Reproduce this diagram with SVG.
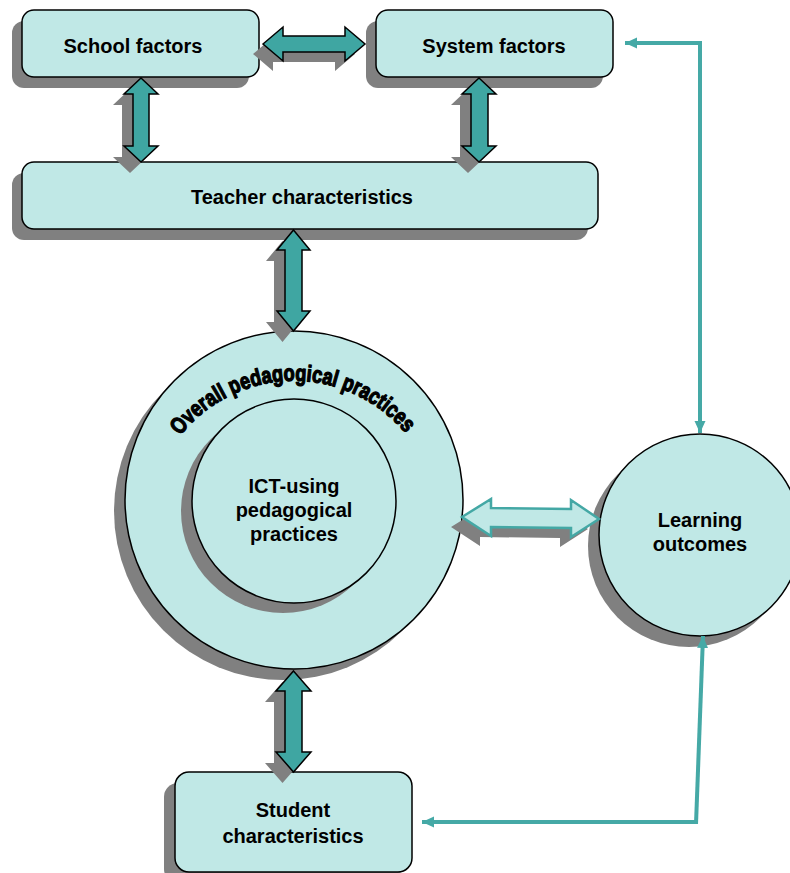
<svg xmlns="http://www.w3.org/2000/svg" width="790" height="873" viewBox="0 0 790 873">
<style>
.node{fill:#c0e8e6;stroke:#000;stroke-width:1.5}
.shadow{fill:#808080;stroke:none}
.lbl{font-family:"Liberation Sans",Arial,sans-serif;font-weight:bold;font-size:20px;fill:#000;text-anchor:middle}
.big{fill:#3fa6a2;stroke:#000;stroke-width:1.5;stroke-linejoin:miter}
.light{fill:#c0e8e6;stroke:#44a8a5;stroke-width:2.5;stroke-linejoin:miter}
.line{fill:none;stroke:#45a9a6;stroke-width:4}
.arc{font-family:"Liberation Sans",Arial,sans-serif;font-weight:bold;font-size:23px;fill:#000;stroke:#000;stroke-width:1.3;stroke-linejoin:round}
</style>
<defs>
<marker id="ah" markerUnits="userSpaceOnUse" markerWidth="14" markerHeight="12" refX="12" refY="6" orient="auto-start-reverse">
<path d="M0,0.5 L12,6 L0,11.5 z" fill="#45a9a6"/>
</marker>
<path id="arcp" d="M180.3,435.7 A145,145 0 0 1 404.4,431.9"/>
</defs>

<g id="school-factors">
<rect class="shadow" x="12" y="21" width="237" height="67" rx="12"/>
<rect class="node" x="22" y="10" width="237" height="67" rx="12"/>
<text class="lbl" x="133" y="53">School factors</text>
</g>

<g id="system-factors">
<rect class="shadow" x="366" y="21" width="237" height="67" rx="12"/>
<rect class="node" x="376" y="10" width="237" height="67" rx="12"/>
<text class="lbl" x="494" y="53">System factors</text>
</g>

<g id="teacher-characteristics">
<rect class="shadow" x="12" y="173" width="576" height="67" rx="12"/>
<rect class="node" x="22" y="162" width="576" height="67" rx="12"/>
<text class="lbl" x="302" y="204">Teacher characteristics</text>
</g>

<g id="overall-pedagogical-practices">
<circle class="shadow" cx="283" cy="511" r="169"/>
<circle class="node" cx="294" cy="500" r="169"/>
<text class="arc"><textPath href="#arcp" textLength="258" lengthAdjust="spacingAndGlyphs">Overall pedagogical practices</textPath></text>
</g>

<g id="ict-using-pedagogical-practices">
<circle class="shadow" cx="283" cy="511" r="102"/>
<circle class="node" cx="294" cy="501" r="102"/>
<text class="lbl" x="294" y="493">ICT-using</text>
<text class="lbl" x="294" y="517">pedagogical</text>
<text class="lbl" x="294" y="541">practices</text>
</g>

<g id="learning-outcomes">
<circle class="shadow" cx="689" cy="546" r="101"/>
<circle class="node" cx="700" cy="535" r="101"/>
<text class="lbl" x="700" y="527">Learning</text>
<text class="lbl" x="700" y="551">outcomes</text>
</g>

<g id="student-characteristics">
<rect class="shadow" x="164" y="783" width="237" height="100" rx="14"/>
<rect class="node" x="175" y="772" width="237" height="100" rx="14"/>
<text class="lbl" x="293" y="817">Student</text>
<text class="lbl" x="293" y="843">characteristics</text>
</g>

<g id="connectors">
<polygon class="shadow" transform="translate(-10,10)" points="263,44 283,27 283,36 345,36 345,27 365,44 345,61 345,52 283,52 283,61"/>
<polygon class="big" points="263,44 283,27 283,36 345,36 345,27 365,44 345,61 345,52 283,52 283,61"/>
<polygon class="shadow" transform="translate(-11,11)" points="141,78 158,94 149,94 149,146 158,146 141,162 124,146 133,146 133,94 124,94"/>
<polygon class="big" points="141,78 158,94 149,94 149,146 158,146 141,162 124,146 133,146 133,94 124,94"/>
<polygon class="shadow" transform="translate(-11,11)" points="479,78 496,94 488,94 488,146 496,146 479,162 462,146 471,146 471,94 462,94"/>
<polygon class="big" points="479,78 496,94 488,94 488,146 496,146 479,162 462,146 471,146 471,94 462,94"/>
<polygon class="shadow" transform="translate(-11,11)" points="293.5,230 310,250 302,250 302,311 310,311 293.5,331 277,311 285,311 285,250 277,250"/>
<polygon class="big" points="293.5,230 310,250 302,250 302,311 310,311 293.5,331 277,311 285,311 285,250 277,250"/>
<polygon class="shadow" transform="translate(-11,11)" points="293.5,671 311,691 302,691 302,752 311,752 293.5,772 276,752 285,752 285,691 276,691"/>
<polygon class="big" points="293.5,671 311,691 302,691 302,752 311,752 293.5,772 276,752 285,752 285,691 276,691"/>
<polygon class="shadow" transform="translate(-11,10)" points="462,517 491,499 491,508 571,509 571,500 599,519 571,537 571,528 491,527 491,536"/>
<polygon class="light" points="462,517 491,499 491,508 571,509 571,500 599,519 571,537 571,528 491,527 491,536"/>
<path class="line" d="M700,41 V433" marker-end="url(#ah)"/>
<path class="line" d="M702,43 H625" marker-end="url(#ah)"/>
<path class="line" d="M696,824 L703,636" marker-end="url(#ah)"/>
<path class="line" d="M698,822 H422" marker-end="url(#ah)"/>
</g>
</svg>
